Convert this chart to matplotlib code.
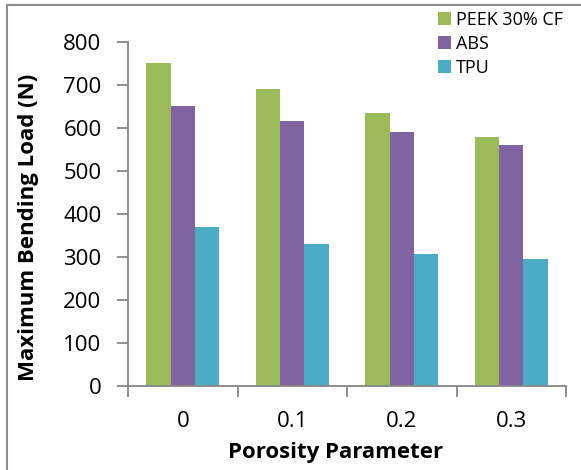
import numpy as np
import matplotlib.pyplot as plt
from matplotlib.lines import Line2D

# data
categories = ['0', '0.1', '0.2', '0.3']
series_names = ['PEEK 30% CF', 'ABS', 'TPU']
peek = [750, 690, 635, 578]
abs_vals = [650, 615, 590, 560]
tpu = [370, 330, 307, 295]

colors = ['#9BBB59', '#8064A2', '#4BACC6']
axis_gray = '#868686'

plt.rcParams['font.family'] = ['Open Sans', 'DejaVu Sans']

fig = plt.figure(figsize=(5.81, 4.70), dpi=100)
ax = fig.add_axes([128/581, 1 - 386/470, 438/581, 344.5/470])

w = 0.222
centers = np.arange(len(categories)) + 0.5
for k, (vals, name) in enumerate(zip([peek, abs_vals, tpu], series_names)):
    ax.bar(centers + (k - 1) * w, vals, width=w, color=colors[k],
           label=name, edgecolor='none')

ax.set_xlim(0, len(categories))
ax.set_ylim(0, 800)
ax.set_yticks(np.arange(0, 801, 100))
ax.set_xticks(np.arange(0, len(categories) + 1))
ax.set_xticklabels([])
ax.set_xticks(centers, minor=True)
ax.set_xticklabels(categories, minor=True)

for s in ['top', 'right']:
    ax.spines[s].set_visible(False)
for s in ['left', 'bottom']:
    ax.spines[s].set_color(axis_gray)
    ax.spines[s].set_linewidth(1.3)

ax.tick_params(axis='y', which='major', direction='out', length=8, width=1.3,
               color=axis_gray, labelsize=16, pad=11)
ax.tick_params(axis='x', which='major', direction='out', length=8, width=1.3,
               color=axis_gray)
ax.tick_params(axis='x', which='minor', length=0, labelsize=16, pad=18)

ax.set_xlabel('Porosity Parameter', fontsize=16, fontweight='bold', va='center')
ax.xaxis.set_label_coords(0.475, -0.194)
ax.set_ylabel('Maximum Bending Load (N)', fontsize=16, fontweight='bold', va='center')
ax.yaxis.set_label_coords(-0.228, 0.46)

ax.legend(loc='upper left', bbox_to_anchor=(438/581, 1 - 11/470),
          bbox_transform=fig.transFigure, frameon=False, fontsize=13,
          handlelength=0.7, handleheight=0.7, handletextpad=0.3,
          labelspacing=0.32, borderpad=0, borderaxespad=0)

# outer chart frame (left and top edges visible)
fig.add_artist(Line2D([7/581, 7/581], [0, 1 - 5/470], transform=fig.transFigure,
                      color='#8c8c8c', lw=1.5))
fig.add_artist(Line2D([7/581, 1], [1 - 5/470, 1 - 5/470], transform=fig.transFigure,
                      color='#8c8c8c', lw=1.5))

fig.savefig('out.png', dpi=100)
